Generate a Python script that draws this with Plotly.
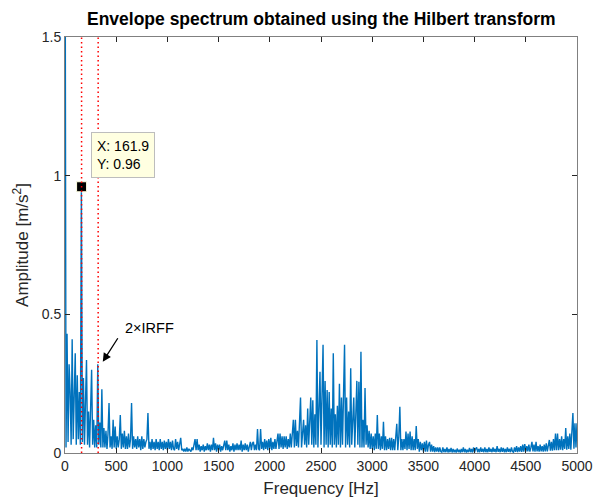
import plotly.graph_objects as go

# Frequency bins (Hz), 10 Hz step, 0..5000
freq = [i * 10 for i in range(501)]

# Envelope-spectrum amplitude [m/s^2], read per 100 Hz row (10 bins each)
amp_rows = [
    [2.2, 0.02, 0.43, 0.04, 0.32, 0.22, 0.03, 0.41, 0.05, 0.25],          # 0
    [0.36, 0.03, 0.28, 0.05, 0.22, 0.03, 0.96, 0.04, 0.27, 0.03],         # 100
    [0.17, 0.335, 0.03, 0.15, 0.02, 0.13, 0.30, 0.03, 0.12, 0.02],        # 200
    [0.10, 0.02, 0.32, 0.03, 0.11, 0.02, 0.23, 0.02, 0.09, 0.02],         # 300
    [0.08, 0.015, 0.07, 0.18, 0.02, 0.06, 0.015, 0.12, 0.02, 0.095],      # 400
    [0.015, 0.06, 0.02, 0.05, 0.137, 0.015, 0.07, 0.02, 0.08, 0.015],     # 500
    [0.06, 0.015, 0.07, 0.02, 0.05, 0.18, 0.015, 0.06, 0.02, 0.05],       # 600
    [0.015, 0.06, 0.02, 0.05, 0.01, 0.06, 0.015, 0.05, 0.02, 0.04],       # 700
    [0.05, 0.144, 0.015, 0.04, 0.01, 0.05, 0.015, 0.04, 0.01, 0.05],      # 800
    [0.015, 0.04, 0.01, 0.05, 0.015, 0.04, 0.01, 0.045, 0.015, 0.04],     # 900
    [0.01, 0.05, 0.015, 0.04, 0.01, 0.045, 0.015, 0.01, 0.05, 0.015],     # 1000
    [0.04, 0.01, 0.035, 0.055, 0.01, 0.015, 0.005, 0.015, 0.005, 0.02],   # 1100
    [0.005, 0.015, 0.01, 0.005, 0.02, 0.01, 0.03, 0.05, 0.01, 0.05],      # 1200
    [0.01, 0.03, 0.005, 0.025, 0.01, 0.03, 0.005, 0.025, 0.01, 0.035],    # 1300
    [0.01, 0.03, 0.005, 0.03, 0.01, 0.055, 0.01, 0.035, 0.005, 0.03],     # 1400
    [0.01, 0.03, 0.005, 0.025, 0.01, 0.03, 0.045, 0.01, 0.045, 0.01],     # 1500
    [0.03, 0.005, 0.025, 0.01, 0.035, 0.005, 0.03, 0.01, 0.035, 0.01],    # 1600
    [0.03, 0.01, 0.045, 0.005, 0.03, 0.01, 0.035, 0.01, 0.03, 0.005],     # 1700
    [0.03, 0.04, 0.01, 0.035, 0.04, 0.01, 0.03, 0.01, 0.086, 0.015],      # 1800
    [0.01, 0.086, 0.015, 0.04, 0.01, 0.05, 0.015, 0.045, 0.01, 0.05],     # 1900
    [0.015, 0.055, 0.01, 0.04, 0.015, 0.05, 0.015, 0.045, 0.07, 0.015],   # 2000
    [0.07, 0.02, 0.06, 0.015, 0.06, 0.02, 0.06, 0.015, 0.05, 0.02],       # 2100
    [0.07, 0.02, 0.09, 0.12, 0.02, 0.12, 0.025, 0.08, 0.02, 0.09],        # 2200
    [0.20, 0.02, 0.09, 0.12, 0.03, 0.10, 0.02, 0.16, 0.03, 0.12],         # 2300
    [0.20, 0.03, 0.19, 0.02, 0.14, 0.03, 0.407, 0.02, 0.15, 0.293],       # 2400
    [0.03, 0.18, 0.39, 0.02, 0.26, 0.03, 0.227, 0.02, 0.22, 0.03],        # 2500
    [0.16, 0.02, 0.36, 0.03, 0.14, 0.02, 0.17, 0.03, 0.25, 0.02],         # 2600
    [0.20, 0.03, 0.22, 0.39, 0.02, 0.20, 0.03, 0.15, 0.02, 0.306],        # 2700
    [0.03, 0.15, 0.20, 0.02, 0.14, 0.26, 0.03, 0.257, 0.02, 0.365],       # 2800
    [0.02, 0.12, 0.02, 0.234, 0.03, 0.10, 0.02, 0.08, 0.015, 0.07],       # 2900
    [0.015, 0.06, 0.01, 0.07, 0.015, 0.137, 0.015, 0.07, 0.01, 0.06],     # 3000
    [0.015, 0.113, 0.01, 0.06, 0.01, 0.05, 0.015, 0.055, 0.01, 0.055],    # 3100
    [0.01, 0.05, 0.01, 0.05, 0.105, 0.01, 0.06, 0.167, 0.01, 0.05],       # 3200
    [0.01, 0.05, 0.015, 0.077, 0.01, 0.07, 0.015, 0.077, 0.01, 0.06],     # 3300
    [0.01, 0.05, 0.01, 0.097, 0.015, 0.05, 0.005, 0.04, 0.01, 0.035],     # 3400
    [0.005, 0.04, 0.005, 0.045, 0.005, 0.03, 0.04, 0.005, 0.03, 0.005],   # 3500
    [0.025, 0.003, 0.02, 0.005, 0.02, 0.003, 0.02, 0.005, 0.003, 0.02],   # 3600
    [0.003, 0.015, 0.003, 0.02, 0.002, 0.015, 0.003, 0.018, 0.002, 0.015],  # 3700
    [0.003, 0.012, 0.002, 0.016, 0.003, 0.012, 0.002, 0.015, 0.003, 0.02],  # 3800
    [0.003, 0.015, 0.002, 0.012, 0.003, 0.018, 0.003, 0.015, 0.002, 0.02],  # 3900
    [0.003, 0.015, 0.02, 0.003, 0.015, 0.003, 0.02, 0.004, 0.015, 0.003],   # 4000
    [0.02, 0.003, 0.015, 0.003, 0.02, 0.004, 0.015, 0.003, 0.02, 0.004],    # 4100
    [0.015, 0.003, 0.025, 0.004, 0.015, 0.003, 0.02, 0.004, 0.018, 0.003],  # 4200
    [0.015, 0.003, 0.02, 0.004, 0.015, 0.003, 0.02, 0.005, 0.003, 0.02],    # 4300
    [0.004, 0.025, 0.003, 0.02, 0.005, 0.025, 0.004, 0.03, 0.005, 0.032],   # 4400
    [0.005, 0.025, 0.006, 0.03, 0.005, 0.02, 0.04, 0.006, 0.03, 0.005],     # 4500
    [0.04, 0.006, 0.025, 0.005, 0.03, 0.006, 0.025, 0.005, 0.03, 0.006],    # 4600
    [0.035, 0.006, 0.03, 0.047, 0.008, 0.04, 0.008, 0.05, 0.01, 0.07],      # 4700
    [0.01, 0.07, 0.01, 0.05, 0.012, 0.06, 0.01, 0.05, 0.015, 0.09],         # 4800
    [0.012, 0.06, 0.015, 0.07, 0.012, 0.08, 0.144, 0.015, 0.107, 0.02],     # 4900
    [0.107],                                                                # 5000
]
amp = [v for row in amp_rows for v in row]

# Data tip and fault-frequency markers
irff = 161.9
tip_y = 0.96
harmonics = [1, 2]

x_ticks = list(range(0, 5001, 500))
y_ticks = [0, 0.5, 1, 1.5]
y_tick_text = ["0", "0.5", "1", "1.5"]

FONT = "Liberation Sans, Arial, Helvetica, sans-serif"
AX = "#262626"

fig = go.Figure()
fig.add_trace(go.Scatter(x=freq, y=amp, mode="lines",
                         line=dict(color="#0072BD", width=1.4),
                         hoverinfo="skip", showlegend=False))
fig.add_trace(go.Scatter(x=[irff], y=[tip_y], mode="markers",
                         marker=dict(symbol="square", size=10, color="black",
                                     line=dict(color="#FFFFE1", width=1)),
                         showlegend=False, hoverinfo="skip"))

shapes = []
for h in harmonics:
    shapes.append(dict(type="line", xref="x", yref="y", x0=h * irff, x1=h * irff,
                       y0=0, y1=1.5, layer="above",
                       line=dict(color="#FF0000", width=1.5, dash="1.5px,3px")))

annotations = [
    dict(x=irff, y=tip_y, xref="x", yref="y", showarrow=False,
         text="X: 161.9<br>Y: 0.96", align="left",
         xanchor="left", yanchor="bottom", xshift=9, yshift=9,
         bgcolor="#FFFFE1", bordercolor="#BDBDBD", borderwidth=1, borderpad=5,
         font=dict(family=FONT, size=14, color="black")),
    dict(x=2 * irff + 45, y=0.329, xref="x", yref="y", showarrow=True,
         text="", ax=16, ay=-25, arrowhead=2, arrowsize=1.3, arrowwidth=1.3,
         arrowcolor="black"),
    dict(x=2 * irff + 45, y=0.329, xref="x", yref="y", showarrow=False,
         text="2×IRFF", xanchor="left", yanchor="bottom", xshift=20, yshift=24,
         font=dict(family=FONT, size=14.5, color="black")),
]

fig.update_layout(
    width=604, height=502,
    margin=dict(l=65, r=27, t=37, b=49, autoexpand=False),
    paper_bgcolor="white", plot_bgcolor="white",
    font=dict(family=FONT, size=14, color=AX),
    title=dict(text="<b>Envelope spectrum obtained using the Hilbert transform</b>",
               x=0.532, xanchor="center", y=0.962, yanchor="middle",
               font=dict(family=FONT, size=17.5, color="black")),
    shapes=shapes, annotations=annotations,
    xaxis=dict(range=[0, 5000], tickvals=x_ticks, ticks="inside", ticklen=5,
               tickcolor=AX, showline=True, linecolor="#808080", linewidth=1,
               mirror="ticks", showgrid=False, zeroline=False, automargin=False,
               tickfont=dict(family=FONT, size=14, color=AX),
               title=dict(text="Frequency [Hz]", standoff=9,
                          font=dict(family=FONT, size=17, color=AX))),
    yaxis=dict(range=[0, 1.5], tickvals=y_ticks, ticktext=y_tick_text,
               ticks="inside", ticklen=5, tickcolor=AX, showline=True,
               linecolor="#808080", linewidth=1, mirror="ticks",
               showgrid=False, zeroline=False, automargin=False,
               tickfont=dict(family=FONT, size=14, color=AX),
               title=dict(text="Amplitude [m/s<sup>2</sup>]", standoff=8,
                          font=dict(family=FONT, size=17, color=AX))),
)

fig.write_html("out.html")
